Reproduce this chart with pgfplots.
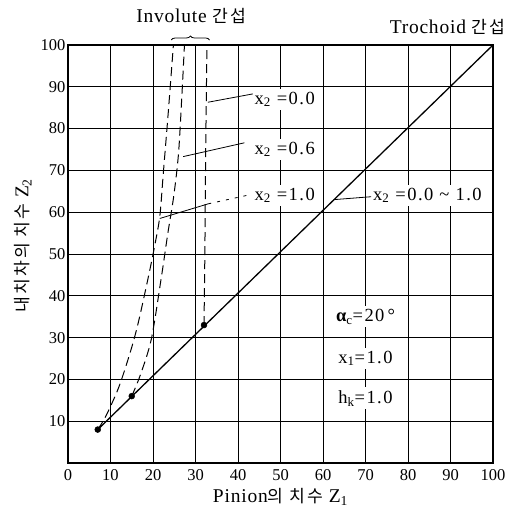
\documentclass[border=0pt]{standalone}
\usepackage{pgfplots}
\pgfplotsset{compat=1.18}
\usepackage{fontspec}
\setmainfont{Liberation Serif}
\newfontfamily\lsf{Liberation Serif}[LetterSpace=8]
\newfontfamily\lsb{Liberation Serif}[LetterSpace=4]
\newfontfamily\kr{Noto Sans CJK KR}[Scale=0.88, LetterSpace=12]
\usetikzlibrary{decorations.pathreplacing}

\begin{document}
\begin{tikzpicture}
\begin{axis}[name=ax, scale only axis, width=425pt, height=418pt,
  xmin=0, xmax=100, ymin=0, ymax=100,
  xtick={0,10,...,100}, ytick={10,20,...,100},
  grid=major, major grid style={black, line width=0.8pt},
  axis line style={line width=2pt},
  tick style={draw=none},
  clip=false,
  /pgf/number format/assume math mode=true,
  ticklabel style={font=\fontsize{16.5}{17}\selectfont},
  xticklabel style={yshift=-3pt},
  yticklabel style={xshift=1pt},
  xlabel={Pinion{\kr 의 치수} Z\textsubscript{1}},
  ylabel={{\kr 내치차의 치수} Z\textsubscript{2}},
  label style={font=\fontsize{19.5}{20}\lsb},
  xlabel style={at={(axis description cs:0.5,-0.082)}, anchor=center},
  ylabel style={at={(axis description cs:-0.106,0.52)}, anchor=center},
]
% Trochoid interference line
\addplot[black, line width=1.3pt] coordinates {(7,8) (100,100)};
% Involute interference curves
\addplot[black, line width=1pt, dash pattern=on 9pt off 5pt, smooth] coordinates {
(7,8) (8.9,11.2) (11.9,18) (14.5,26) (16.4,33) (18.8,44) (20.4,52) (21.6,59) (22.4,69) (23.6,84) (24.8,100)};
\addplot[black, line width=1pt, dash pattern=on 9pt off 5pt, smooth] coordinates {
(15,16) (17,21) (19.6,29.6) (21.9,44) (23.5,55) (24.9,64) (26,74) (26.8,88) (27.4,100)};
\addplot[black, line width=1pt, dash pattern=on 9pt off 5pt, smooth] coordinates {
(32,33) (32.2,50) (32.4,75) (32.7,100)};
\addplot[only marks, mark=*, mark size=3pt, black] coordinates {(7,8) (15,16) (32,33)};

% leader lines
\draw[line width=0.8pt] (axis cs:32.9,86.3) -- (axis cs:43.5,88.3);
\draw[line width=0.8pt] (axis cs:27.1,73.3) -- (axis cs:41.5,76.6);
\draw[line width=0.8pt] (axis cs:21.6,58.5) -- (axis cs:33,62);
\draw[line width=0.8pt, dash pattern=on 3pt off 6pt] (axis cs:33,62) -- (axis cs:42,64);
\draw[line width=0.8pt] (axis cs:62.5,63) -- (axis cs:71.3,63.7);

\begin{scope}[every node/.style={font=\fontsize{18.5}{19}\lsf, fill=white, inner xsep=1pt, inner ysep=3pt}]
\node[anchor=west] at (axis cs:43.6,87) {x\textsubscript{2} =0.0};
\node[anchor=west] at (axis cs:43.6,75) {x\textsubscript{2} =0.6};
\node[anchor=west] at (axis cs:43.6,64) {x\textsubscript{2} =1.0};
\node[anchor=west] at (axis cs:71.5,64) {x\textsubscript{2} =0.0 \textasciitilde\ 1.0};
\node at (axis cs:70,35) {{\bfseries α}\textsubscript{c}=20\,°};
\node at (axis cs:70,25) {x\textsubscript{1}=1.0};
\node at (axis cs:70,15.5) {h\textsubscript{k}=1.0};
\end{scope}

\draw[decorate, decoration={brace, amplitude=4pt}, line width=0.8pt] (axis cs:24.3,101.2) -- (axis cs:33.3,101.2);
\node[font=\fontsize{19.5}{20}\lsb] at (axis cs:29,107) {Involute {\kr 간섭}};
\node[font=\fontsize{19.5}{20}\lsb] at (axis cs:89.3,104.3) {Trochoid {\kr 간섭}};
\end{axis}
\pgfresetboundingbox
\path[use as bounding box] ([xshift=-68pt,yshift=-50pt]ax.south west) rectangle ([xshift=18pt,yshift=45pt]ax.north east);
\end{tikzpicture}
\end{document}
